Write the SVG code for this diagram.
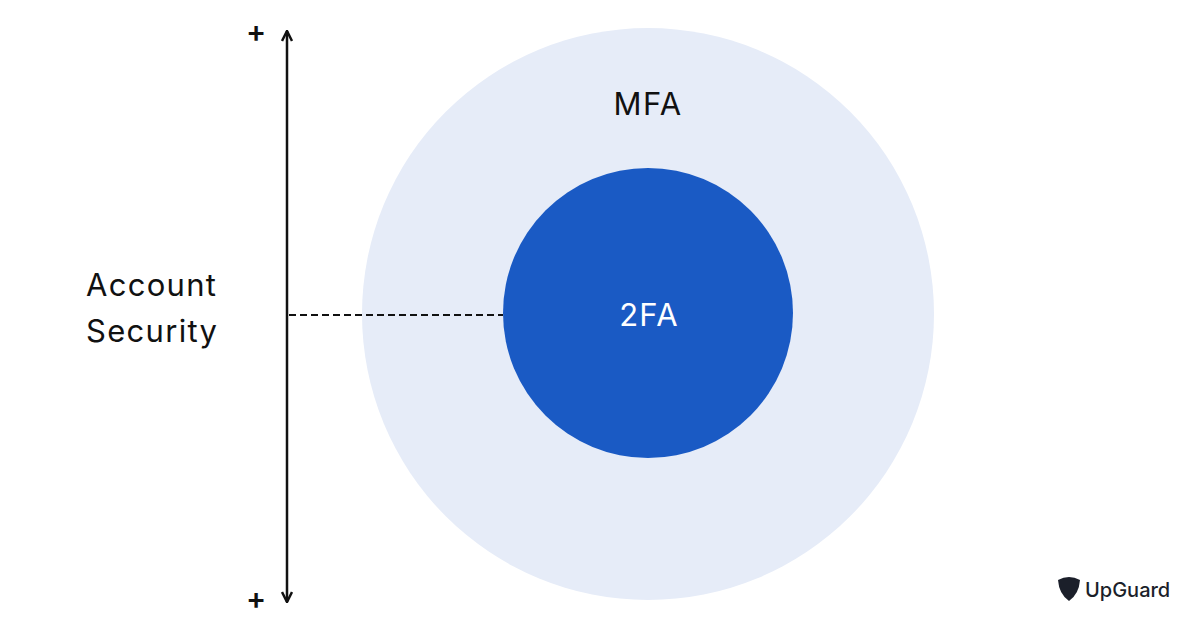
<svg xmlns="http://www.w3.org/2000/svg" width="1200" height="628" viewBox="0 0 1200 628">
<style>
text{font-family:Inter,"Liberation Sans",sans-serif;}
.lbl{font-size:31px;letter-spacing:1.3px;fill:#111111;}
.plus{font-size:30px;fill:#111111;font-weight:600;}
</style>
<defs>
<marker id="ah" viewBox="0 0 10 10" refX="9" refY="5" markerWidth="5" markerHeight="5" orient="auto-start-reverse">
<path d="M1 1 L9 5 L1 9" fill="none" stroke="#111" stroke-width="2"/>
</marker>
</defs>
<rect width="1200" height="628" fill="#ffffff"/>
<g id="mfa">
<circle cx="648" cy="314" r="286" fill="#e6ecf8"/>
<text x="648" y="115" text-anchor="middle" class="lbl">MFA</text>
</g>
<g id="twofa">
<circle cx="648" cy="313" r="145" fill="#1a5ac4"/>
<text x="649" y="326" text-anchor="middle" font-size="31" letter-spacing="1.3" fill="#ffffff">2FA</text>
</g>
<g id="axis">
<text x="86" y="296" class="lbl">Account</text>
<text x="86" y="342" class="lbl">Security</text>
<text x="256" y="42" text-anchor="middle" class="plus">+</text>
<text x="256" y="609" text-anchor="middle" class="plus">+</text>
</g>
<g id="connectors">
<line x1="287" y1="31" x2="287" y2="602" stroke="#111" stroke-width="2.5" marker-start="url(#ah)" marker-end="url(#ah)"/>
<line x1="289" y1="315" x2="503" y2="315" stroke="#111" stroke-width="2" stroke-dasharray="7,4"/>
</g>
<g id="logo">
<path d="M1058 580 Q1069 574 1080 580 Q1079 594 1069 601 Q1059 594 1058 580 Z" fill="#1b1f2a"/>
<text x="1085" y="597" font-size="20" font-weight="500" fill="#1b1f2a">UpGuard</text>
</g>
</svg>
